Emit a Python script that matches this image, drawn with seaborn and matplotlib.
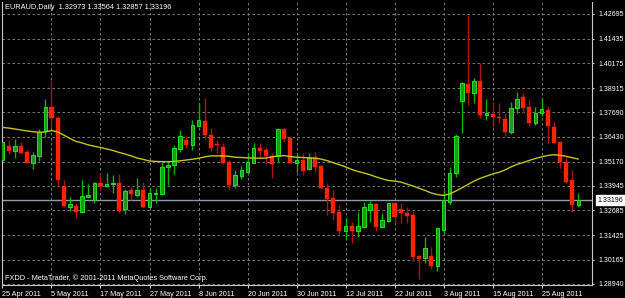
import numpy as np
import pandas as pd
import matplotlib
matplotlib.use("Agg")
import matplotlib.pyplot as plt
import matplotlib.transforms as mtransforms
import seaborn as sns

# ---------------- data (EURAUD daily) ----------------
open_ = [1.3525, 1.3598, 1.3573, 1.3598, 1.3564, 1.3511, 1.3546, 1.3671, 1.3797, 1.3738,
         1.3393, 1.3288, 1.3291, 1.3262, 1.3338, 1.3322, 1.3410, 1.3393, 1.3402, 1.3407,
         1.3274, 1.3373, 1.3347, 1.3373, 1.3288, 1.3352, 1.3352, 1.3488, 1.3499, 1.3580,
         1.3627, 1.3602, 1.3698, 1.3725, 1.3653, 1.3605, 1.3593, 1.3515, 1.3398, 1.3444,
         1.3465, 1.3511, 1.3585, 1.3576, 1.3546, 1.3546, 1.3682, 1.3636, 1.3511, 1.3525,
         1.3477, 1.3539, 1.3495, 1.3381, 1.3330, 1.3262, 1.3165, 1.3190, 1.3165, 1.3186,
         1.3271, 1.3301, 1.3186, 1.3216, 1.3305, 1.3276, 1.3257, 1.3247, 1.3037, 1.3025,
         1.3037, 1.2986, 1.3169, 1.3313, 1.3461, 1.3823, 1.3912, 1.3868, 1.3927, 1.3754,
         1.3760, 1.3746, 1.3733, 1.3669, 1.3788, 1.3844, 1.3793, 1.3715, 1.3763, 1.3780,
         1.3695, 1.3618, 1.3517, 1.3423, 1.32973]
high = [1.3627, 1.3627, 1.3631, 1.3618, 1.3576, 1.3567, 1.3683, 1.3834, 1.3929, 1.3750,
        1.3423, 1.3335, 1.3305, 1.3423, 1.3403, 1.3415, 1.3458, 1.3458, 1.3449, 1.3454,
        1.3376, 1.3389, 1.3432, 1.3415, 1.3381, 1.3381, 1.3517, 1.3517, 1.3602, 1.3678,
        1.3647, 1.3729, 1.3814, 1.3839, 1.3687, 1.3627, 1.3610, 1.3525, 1.3474, 1.3495,
        1.3559, 1.3610, 1.3610, 1.3593, 1.3559, 1.3687, 1.3687, 1.3641, 1.3559, 1.3562,
        1.3562, 1.3567, 1.3500, 1.3407, 1.3373, 1.3296, 1.3229, 1.3212, 1.3262, 1.3313,
        1.3318, 1.3308, 1.3254, 1.3308, 1.3308, 1.3305, 1.3288, 1.3267, 1.3042, 1.3132,
        1.3084, 1.3177, 1.3373, 1.3491, 1.3658, 1.3924, 1.4263, 1.3941, 1.4017, 1.3834,
        1.3822, 1.3817, 1.3766, 1.3822, 1.3873, 1.3865, 1.3831, 1.3797, 1.3834, 1.3797,
        1.3720, 1.3618, 1.3542, 1.3474, 1.33564]
low = [1.3515, 1.3556, 1.3534, 1.3556, 1.3508, 1.3478, 1.3521, 1.3644, 1.3687, 1.3393,
       1.3284, 1.3267, 1.3229, 1.3257, 1.3330, 1.3305, 1.3373, 1.3386, 1.3359, 1.3257,
       1.3250, 1.3322, 1.3339, 1.3280, 1.3280, 1.3308, 1.3347, 1.3398, 1.3454, 1.3567,
       1.3585, 1.3576, 1.3695, 1.3631, 1.3573, 1.3562, 1.3505, 1.3373, 1.3381, 1.3427,
       1.3457, 1.3508, 1.3534, 1.3505, 1.3432, 1.3517, 1.3618, 1.3508, 1.3465, 1.3449,
       1.3474, 1.3465, 1.3376, 1.3245, 1.3220, 1.3143, 1.3127, 1.3102, 1.3135, 1.3178,
       1.3211, 1.3165, 1.3178, 1.3211, 1.3203, 1.3203, 1.3203, 1.3013, 1.2918, 1.3003,
       1.2969, 1.2962, 1.3149, 1.3296, 1.3440, 1.3664, 1.3805, 1.3814, 1.3738, 1.3729,
       1.3695, 1.3712, 1.3647, 1.3658, 1.3763, 1.3763, 1.3698, 1.3703, 1.3749, 1.3610,
       1.3610, 1.3483, 1.3407, 1.3262, 1.32857]
close = [1.3617, 1.3573, 1.3598, 1.3562, 1.3511, 1.3551, 1.3666, 1.3793, 1.3738, 1.3423,
         1.3291, 1.3301, 1.3262, 1.3342, 1.3349, 1.3410, 1.3393, 1.3403, 1.3407, 1.3266,
         1.3369, 1.3352, 1.3373, 1.3288, 1.3359, 1.3359, 1.3488, 1.3498, 1.3585, 1.3647,
         1.3602, 1.3703, 1.3729, 1.3653, 1.3585, 1.3600, 1.3511, 1.3398, 1.3449, 1.3474,
         1.3517, 1.3585, 1.3573, 1.3546, 1.3505, 1.3682, 1.3631, 1.3511, 1.3525, 1.3470,
         1.3542, 1.3491, 1.3381, 1.3325, 1.3257, 1.3165, 1.3190, 1.3165, 1.3190, 1.3284,
         1.3301, 1.3186, 1.3220, 1.3305, 1.3237, 1.3254, 1.3242, 1.3030, 1.3020, 1.3076,
         1.2986, 1.3177, 1.3322, 1.3461, 1.3647, 1.3916, 1.3868, 1.3927, 1.3754, 1.3766,
         1.3746, 1.3738, 1.3669, 1.3788, 1.3834, 1.3788, 1.3715, 1.3766, 1.3783, 1.3698,
         1.3613, 1.3517, 1.3415, 1.3296, 1.33196]
moving_avg = [1.3691, 1.3688, 1.3683, 1.3678, 1.3673, 1.3669, 1.3666, 1.3668, 1.3675, 1.3668,
              1.3652, 1.3635, 1.3620, 1.3612, 1.3602, 1.3595, 1.3589, 1.3581, 1.3574, 1.3564,
              1.3556, 1.3546, 1.3535, 1.3528, 1.3520, 1.3518, 1.3517, 1.3516, 1.3518, 1.3521,
              1.3525, 1.3529, 1.3534, 1.3541, 1.3546, 1.3546, 1.3546, 1.3544, 1.3539, 1.3538,
              1.3536, 1.3535, 1.3534, 1.3535, 1.3541, 1.3546, 1.3547, 1.3543, 1.3539, 1.3538,
              1.3535, 1.3534, 1.3530, 1.3522, 1.3511, 1.3501, 1.3490, 1.3477, 1.3467, 1.3459,
              1.3450, 1.3439, 1.3429, 1.3421, 1.3418, 1.3413, 1.3403, 1.3393, 1.3381, 1.3370,
              1.3357, 1.3349, 1.3345, 1.3352, 1.3367, 1.3383, 1.3401, 1.3418, 1.3432, 1.3443,
              1.3454, 1.3462, 1.3474, 1.3490, 1.3503, 1.3512, 1.3523, 1.3533, 1.3541, 1.3548,
              1.3552, 1.3549, 1.3544, 1.3537, 1.3530]

date_labels = ["25 Apr 2011", "5 May 2011", "17 May 2011", "27 May 2011", "8 Jun 2011",
               "20 Jun 2011", "30 Jun 2011", "12 Jul 2011", "22 Jul 2011", "3 Aug 2011",
               "15 Aug 2011", "25 Aug 2011"]
date_label_bars = [0, 8, 16, 24, 32, 40, 48, 56, 64, 72, 80, 88]
price_ticks = [1.42695, 1.41435, 1.40175, 1.38915, 1.37690, 1.36430, 1.35170,
               1.33945, 1.32685, 1.31425, 1.30165, 1.28940]
price_tick_labels = ["1.42695", "1.41435", "1.40175", "1.38915", "1.37690", "1.36430",
                     "1.35170", "1.33945", "1.32685", "1.31425", "1.30165", "1.28940"]
last_price = 1.33196
last_price_label = "1.33196"
title_text = "EURAUD,Daily  1.32973 1.33564 1.32857 1.33196"
footer_text = "FXDD - MetaTrader, \u00a9 2001-2011 MetaQuotes Software Corp."

# ---------------- style ----------------
sns.set_style("dark", {"axes.facecolor": "black", "figure.facecolor": "black",
                       "axes.edgecolor": "#c8c8c8", "grid.color": "#8a8a8a"})
plt.rcParams["font.family"] = ["Liberation Sans", "DejaVu Sans"]

df = pd.DataFrame({"bar": np.arange(len(close)), "open": open_, "high": high,
                   "low": low, "close": close, "ma": moving_avg})
up = df["close"] >= df["open"]

fig = plt.figure(figsize=(6.25, 2.98), dpi=100)
ax = fig.add_axes([2 / 625, 13 / 298, 590 / 625, 283 / 298])
ax.set_facecolor("black")

# grid
ax.set_axisbelow(True)
ax.grid(True, color="#8a8a8a", linewidth=0.6, linestyle=(0, (3, 3)))

# current price line
ax.axhline(last_price, color="#8f9ca8", linewidth=1.0, zorder=1)

# wicks
ax.vlines(df["bar"], df["low"], df["high"],
          colors=np.where(up, "#00b400", "#b01010"), linewidth=1.0, zorder=2)

# bodies
body_bottom = np.minimum(df["open"], df["close"])
body_height = np.maximum(np.abs(df["close"] - df["open"]), 0.00012)
ax.bar(df["bar"][up], body_height[up], bottom=body_bottom[up], width=0.58,
       color="#1c9a1c", edgecolor="#22e022", linewidth=0.7, zorder=3)
ax.bar(df["bar"][~up], body_height[~up], bottom=body_bottom[~up], width=0.66,
       color="#ff2200", edgecolor="#ff2200", linewidth=0.3, zorder=3)

# moving average
sns.lineplot(data=df, x="bar", y="ma", color="#c4c41e", linewidth=1.0, ax=ax,
             zorder=4, legend=False)

# axes limits / ticks
ax.set_xlim(-0.08, 96.24)
ax.set_ylim(1.28889, 1.43294)
ax.set_xticks(date_label_bars)
ax.set_xticklabels(date_labels, ha="left")
ax.yaxis.tick_right()
ax.set_yticks(price_ticks)
ax.set_yticklabels(price_tick_labels)
ax.tick_params(axis="x", colors="#c8c8c8", labelcolor="white", labelsize=5.2,
               length=2.5, width=0.8, pad=1.5, direction="out", bottom=True)
ax.tick_params(axis="y", colors="#c8c8c8", labelcolor="white", labelsize=5.0,
               length=1.5, width=0.8, pad=3, direction="out", right=True, left=False)
ax.set_xlabel("")
ax.set_ylabel("")

for side in ["left", "right", "bottom"]:
    ax.spines[side].set_visible(True)
    ax.spines[side].set_color("#c8c8c8")
    ax.spines[side].set_linewidth(0.8)
ax.spines["top"].set_visible(False)

# last price label box on the right
trans = mtransforms.blended_transform_factory(ax.transAxes, ax.transData)
ax.text(1.0095, last_price, last_price_label, transform=trans, ha="left", va="center",
        fontsize=5.0, color="black", clip_on=False,
        bbox=dict(boxstyle="square,pad=0.2", facecolor="white", edgecolor="white"))

# title & footer
fig.text(5 / 625, 1 - 7.5 / 298, title_text, ha="left", va="center",
         fontsize=5.3, color="white")
fig.text(5 / 625, 1 - 278.5 / 298, footer_text, ha="left", va="center",
         fontsize=5.3, color="white")

fig.savefig("out.png", dpi=100, facecolor="black")
